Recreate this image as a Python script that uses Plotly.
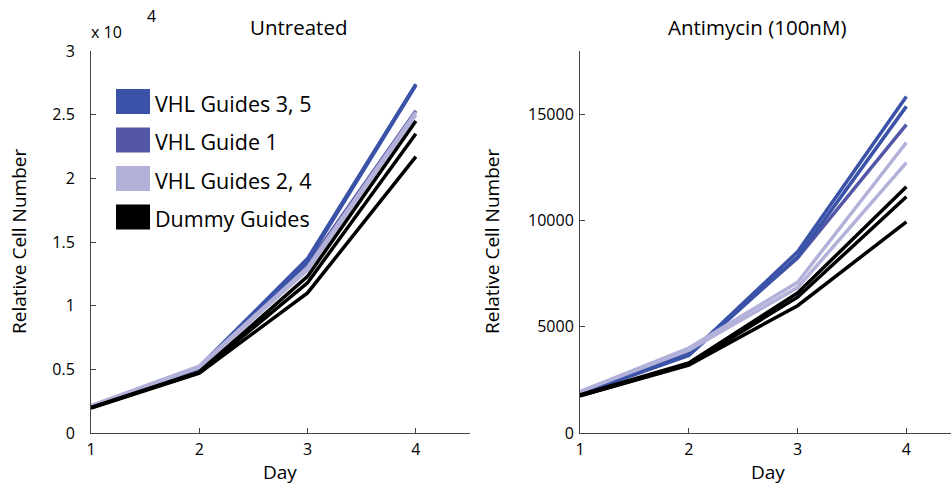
import plotly.graph_objects as go

W, H = 951, 491

days = [1, 2, 3, 4]

groups = ["VHL Guides 3, 5", "VHL Guide 1", "VHL Guides 2, 4", "Dummy Guides"]
group_colors = ["#3a53a8", "#5457a8", "#b1b1d9", "#000000"]

# Untreated: cell counts per guide
untreated = {
    "VHL Guides 3, 5": [[2100, 5200, 13700, 27400], [2050, 5100, 13500, 27300]],
    "VHL Guide 1": [[2100, 5100, 13200, 25300]],
    "VHL Guides 2, 4": [[2150, 5250, 13000, 25200], [2100, 5150, 12800, 25000]],
    "Dummy Guides": [[2000, 4800, 12300, 24500], [2000, 4750, 11800, 23500],
                     [1950, 4700, 11000, 21700]],
}

# Antimycin (100nM): cell counts per guide
antimycin = {
    "VHL Guides 3, 5": [[1900, 3700, 8540, 15860], [1850, 3650, 8300, 15390]],
    "VHL Guide 1": [[1850, 3750, 8250, 14530]],
    "VHL Guides 2, 4": [[1950, 4000, 7100, 13690], [1950, 3900, 6850, 12740]],
    "Dummy Guides": [[1800, 3300, 6600, 11600], [1750, 3250, 6400, 11130],
                     [1750, 3200, 6000, 9950]],
}

left_yticks = [0, 5000, 10000, 15000, 20000, 25000, 30000]
left_yticktext = ["0", "0.5", "1", "1.5", "2", "2.5", "3"]
right_yticks = [0, 5000, 10000, 15000]
right_yticktext = ["0", "5000", "10000", "15000"]

FONT = "Open Sans"
AX = "#444444"


def px(x):
    return x / W


def py(y):
    return 1 - y / H


fig = go.Figure()

draw_order = ["VHL Guide 1", "VHL Guides 3, 5", "VHL Guides 2, 4", "Dummy Guides"]
for data, xa, ya in [(untreated, "x", "y"), (antimycin, "x2", "y2")]:
    for g in draw_order:
        col = group_colors[groups.index(g)]
        for series in data[g]:
            fig.add_trace(go.Scatter(
                x=days, y=series, mode="lines", xaxis=xa, yaxis=ya,
                line=dict(color=col, width=3.5), showlegend=False,
                hoverinfo="skip"))

axis_common = dict(
    showgrid=False, zeroline=False, showline=True, linecolor=AX, linewidth=1,
    ticks="inside", ticklen=5, tickcolor=AX, tickwidth=1, automargin=False,
    tickfont=dict(family=FONT, size=16, color="#000"),
)

ydom = [py(433), py(51)]

fig.update_layout(
    width=W, height=H, margin=dict(l=0, r=0, t=0, b=0, autoexpand=False),
    paper_bgcolor="white", plot_bgcolor="white", showlegend=False,
    font=dict(family=FONT, color="#000"),
    xaxis=dict(domain=[px(91), px(470)], range=[1, 4.5], tickvals=days,
               anchor="y", ticklabelstandoff=2, **axis_common),
    yaxis=dict(domain=ydom, range=[0, 30000], tickvals=left_yticks,
               ticktext=left_yticktext, anchor="x", ticklabelstandoff=12,
               **axis_common),
    xaxis2=dict(domain=[px(580), 1.0], range=[1, 4.41], tickvals=days,
                anchor="y2", ticklabelstandoff=2, **axis_common),
    yaxis2=dict(domain=ydom, range=[0, 18000], tickvals=right_yticks,
                ticktext=right_yticktext, anchor="x2", ticklabelstandoff=2,
                **axis_common),
)


def label(text, x, y, size, xanchor="center", **kw):
    return dict(text=text, x=px(x), y=py(y), xref="paper", yref="paper",
                xanchor=xanchor, yanchor="middle", showarrow=False,
                font=dict(family=FONT, size=size), **kw)


annotations = [
    label("Untreated", 298, 27, 20.5),
    label("Antimycin (100nM)", 757, 27, 20.5),
    label("x 10", 89, 32, 16, xanchor="left"),
    label("4", 151, 16, 16),
    label("Day", 280, 472, 19),
    label("Day", 768, 472, 19),
    label("Relative Cell Number", 19, 242, 19, textangle=-90),
    label("Relative Cell Number", 492, 242, 19, textangle=-90),
]

# Legend drawn as colour blocks with labels
shapes = []
row_top = 89
for i, (g, c) in enumerate(zip(groups, group_colors)):
    top = row_top + i * 38.5
    shapes.append(dict(type="rect", xref="paper", yref="paper",
                       x0=px(116), x1=px(150), y0=py(top + 25), y1=py(top),
                       fillcolor=c, line=dict(width=0), layer="above"))
    annotations.append(label(g, 153, top + 14, 21.5, xanchor="left"))

fig.update_layout(annotations=annotations, shapes=shapes)

fig.write_html("out.html")
